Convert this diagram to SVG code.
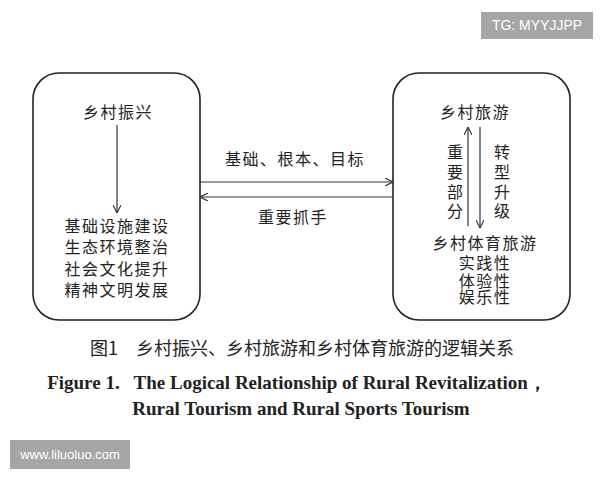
<svg xmlns="http://www.w3.org/2000/svg" width="600" height="480" viewBox="0 0 600 480">
<style>
.box{fill:#fff;stroke:#222;stroke-width:1.6}
.ln{stroke:#333;stroke-width:1.2;fill:none}
.t{font-family:"Liberation Serif","Noto Sans CJK SC",serif;font-size:16px;letter-spacing:1.5px;fill:#222;text-anchor:middle}
.v{font-family:"Liberation Serif","Noto Sans CJK SC",serif;font-size:16px;fill:#222;text-anchor:middle}
.cap{font-family:"Noto Sans CJK SC",sans-serif;font-size:18px;fill:#222;text-anchor:middle}
.en{font-family:"Liberation Serif",serif;font-weight:bold;font-size:19px;fill:#222;text-anchor:middle}
.wm{font-family:"Liberation Sans",sans-serif;font-size:13px;fill:#fff;text-anchor:middle}
</style>
<defs>
<marker id="ah" viewBox="0 0 10 10" refX="10" refY="5" markerWidth="8" markerHeight="8" orient="auto" markerUnits="userSpaceOnUse">
<path d="M0,0 L10,5 L0,10" fill="none" stroke="#333" stroke-width="1.4"/>
</marker>
</defs>
<rect width="600" height="480" fill="#fff"/>
<g id="watermark-tg"><rect x="481" y="12" width="112" height="27" fill="#a6a6a6"/><text class="wm" x="537" y="30" style="font-size:14px">TG: MYYJJPP</text></g>
<g id="node-left">
<rect class="box" x="33" y="73" width="167" height="247" rx="26"/>
<text class="t" x="118" y="118">乡村振兴</text>
<text class="t" x="117" y="232">基础设施建设</text>
<text class="t" x="117" y="253">生态环境整治</text>
<text class="t" x="117" y="275">社会文化提升</text>
<text class="t" x="117" y="296">精神文明发展</text>
</g>
<g id="node-right">
<rect class="box" x="393" y="73" width="177" height="247" rx="26"/>
<text class="t" x="475" y="118">乡村旅游</text>
<text class="v" x="455" y="158">重</text>
<text class="v" x="455" y="178">要</text>
<text class="v" x="455" y="198">部</text>
<text class="v" x="455" y="217">分</text>
<text class="v" x="502" y="158">转</text>
<text class="v" x="502" y="178">型</text>
<text class="v" x="502" y="198">升</text>
<text class="v" x="502" y="217">级</text>
<text class="t" x="485" y="249">乡村体育旅游</text>
<text class="t" x="485" y="269">实践性</text>
<text class="t" x="485" y="287">体验性</text>
<text class="t" x="485" y="303">娱乐性</text>
</g>
<g id="connectors">
<line class="ln" x1="117" y1="125" x2="117" y2="213" marker-end="url(#ah)"/>
<line class="ln" x1="468" y1="226" x2="468" y2="127" marker-end="url(#ah)"/>
<line class="ln" x1="480" y1="127" x2="480" y2="228" marker-end="url(#ah)"/>
<line class="ln" x1="200" y1="182" x2="393" y2="182" marker-end="url(#ah)"/>
<line class="ln" x1="393" y1="197" x2="200" y2="197" marker-end="url(#ah)"/>
<text class="t" x="295" y="165">基础、根本、目标</text>
<text class="t" x="293" y="223">重要抓手</text>
</g>
<g id="caption">
<text class="cap" x="302" y="355" xml:space="preserve">图1　乡村振兴、乡村旅游和乡村体育旅游的逻辑关系</text>
<text class="en" x="297" y="389" xml:space="preserve">Figure 1.   The Logical Relationship of Rural Revitalization，</text>
<text class="en" x="301" y="415">Rural Tourism and Rural Sports Tourism</text>
</g>
<g id="watermark-www"><rect x="10" y="440" width="120" height="29" fill="#a6a6a6"/><text class="wm" x="70" y="459">www.liluoluo.com</text></g>
</svg>
